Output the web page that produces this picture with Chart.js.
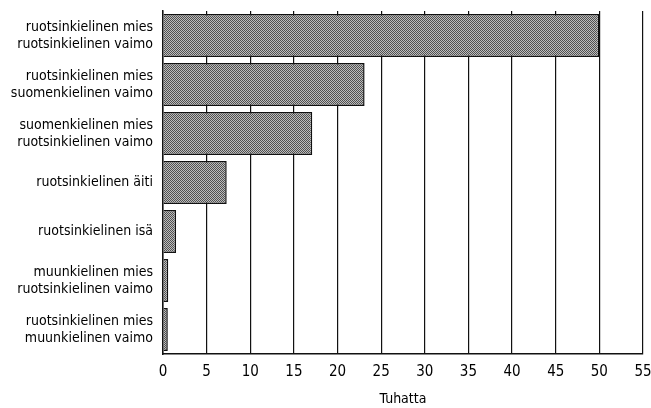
<!DOCTYPE html>
<html>
<head>
<meta charset="utf-8">
<script src="https://cdn.jsdelivr.net/npm/chart.js@4"></script>
<style>
  body { margin: 0; background: #fff; }
  #wrap { width: 651px; height: 408px; }
</style>
</head>
<body>
<div id="wrap"><canvas id="chart" width="651" height="408"></canvas></div>
<script>
// kategoriat (kaksirivisinä)
const categories = [
    ['ruotsinkielinen mies', 'ruotsinkielinen vaimo'],
    ['ruotsinkielinen mies', 'suomenkielinen vaimo'],
    ['suomenkielinen mies', 'ruotsinkielinen vaimo'],
    'ruotsinkielinen äiti',
    'ruotsinkielinen isä',
    ['muunkielinen mies', 'ruotsinkielinen vaimo'],
    ['ruotsinkielinen mies', 'muunkielinen vaimo']
];
// arvot tuhansina
const values = [50, 23.1, 17.1, 7.3, 1.5, 0.6, 0.55];
const xTicks = [0, 5, 10, 15, 20, 25, 30, 35, 40, 45, 50, 55];

// Harmaa rasterikuvio pylväille
function makePattern() {
    const c = document.createElement('canvas');
    c.width = 2; c.height = 2;
    const g = c.getContext('2d');
    g.fillStyle = '#bdbdbd';
    g.fillRect(0, 0, 2, 2);
    g.fillStyle = '#505050';
    g.fillRect(0, 0, 1, 1);
    g.fillRect(1, 1, 1, 1);
    return g.createPattern(c, 'repeat');
}

const FONT = "'Liberation Sans Narrow', 'DejaVu Sans Condensed', sans-serif";
const ctx = document.getElementById('chart').getContext('2d');
const chart = new Chart(ctx, {
    type: 'bar',
    data: {
        labels: categories,
        datasets: [{
            data: values,
            backgroundColor: makePattern(),
            borderColor: '#111',
            borderWidth: 1.5,
            borderSkipped: 'left',
            barPercentage: 0.88,
            categoryPercentage: 1
        }]
    },
    options: {
        indexAxis: 'y',
        responsive: false,
        animation: false,
        layout: { padding: { top: 11, right: 8, left: 0, bottom: 0 } },
        plugins: {
            legend: { display: false },
            tooltip: { enabled: false }
        },
        scales: {
            x: {
                min: 0,
                max: 55,
                afterBuildTicks: (axis) => { axis.ticks = xTicks.map(v => ({ value: v })); },
                afterFit: (axis) => { axis.height = 54; axis.paddingRight = 0; axis.paddingLeft = 0; },
                grid: { color: '#111', lineWidth: 1.2, drawTicks: false },
                border: { color: '#111', width: 1.5 },
                ticks: { color: '#000', padding: 9, font: { family: FONT, size: 15 } },
                title: {
                    display: true,
                    text: 'Tuhatta',
                    color: '#000',
                    padding: { top: 4, bottom: 0 },
                    font: { family: FONT, size: 14 }
                }
            },
            y: {
                afterFit: (axis) => { axis.width = 163; axis.paddingTop = 0; axis.paddingBottom = 0; },
                grid: { display: false, drawTicks: false },
                border: { color: '#111', width: 1.5 },
                ticks: { color: '#000', padding: 10, font: { family: FONT, size: 14, lineHeight: 1.2 } }
            }
        }
    }
});
</script>
</body>
</html>
